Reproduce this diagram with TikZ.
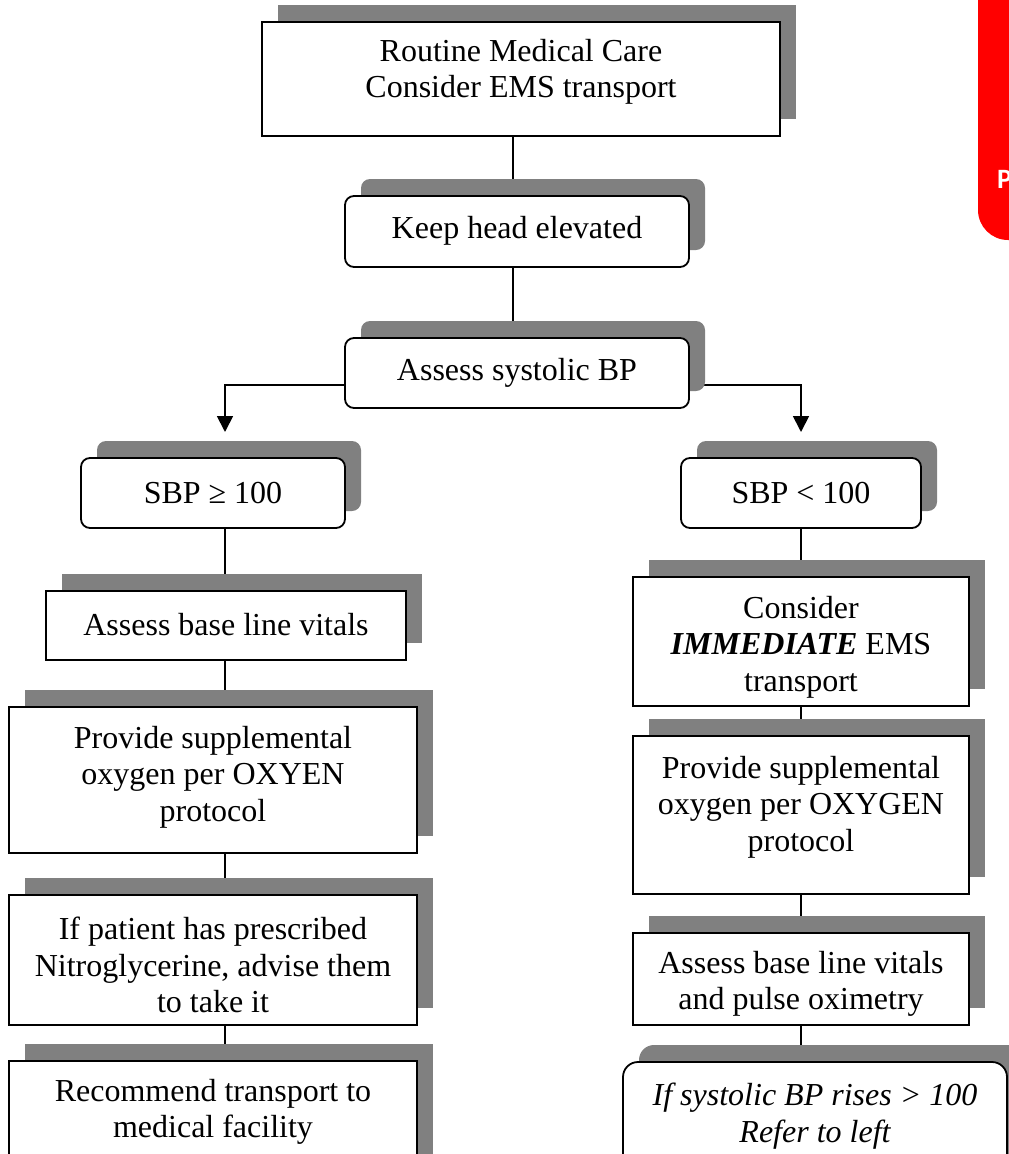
\documentclass[tikz,border=0pt]{standalone}
\usepackage{fontspec}
\setmainfont{Liberation Serif}
\newfontfamily\tabfont{Carlito}
\usetikzlibrary{arrows.meta,shadows,calc}
\pgfdeclarelayer{bg}
\pgfsetlayers{bg,main}
\tikzset{
  box/.style={draw=black, line width=1.8pt, fill=white, inner sep=0pt,
    drop shadow={shadow xshift=16pt, shadow yshift=17pt, opacity=1, fill=black!50}},
  rbox/.style={box, rounded corners=9pt},
  txt/.style={font=\fontsize{32}{36.5}\selectfont, align=center, inner sep=0pt},
  conn/.style={line width=1.8pt},
  arr/.style={conn, -{Triangle[width=16pt,length=16pt]}},
}
\begin{document}
\begin{tikzpicture}[x=1pt,y=-1pt]
\useasboundingbox (0,0) rectangle (1009,1154);
\clip (0,0) rectangle (1009,1154);
% red tab
\fill[red, rounded corners=30pt] (978,-60) -- (978,240) -- (1060,240) -- (1060,-60) -- cycle;
\node[anchor=base west, text=white, font=\tabfont\bfseries\fontsize{28}{30}\selectfont, inner sep=0pt] (tabP) at (997,188) {P};

% boxes
\node[box, minimum width=518pt, minimum height=114pt] (B1) at (521,79) {};
\node[rbox, minimum width=344pt, minimum height=71pt] (B2) at (517,231.5) {};
\node[rbox, minimum width=344pt, minimum height=70pt] (B3) at (517,373) {};
\node[rbox, minimum width=264pt, minimum height=70pt] (L0) at (213,493) {};
\node[rbox, minimum width=240pt, minimum height=70pt] (R0) at (801,493) {};
\node[box, minimum width=360pt, minimum height=69pt] (L1) at (226,625.5) {};
\node[box, minimum width=408pt, minimum height=146pt] (L2) at (213,780) {};
\node[box, minimum width=408pt, minimum height=130pt] (L3) at (213,960) {};
\node[box, minimum width=408pt, minimum height=114pt] (L4) at (213,1118) {};
\node[box, minimum width=336pt, minimum height=129pt] (R1) at (801,641.5) {};
\node[box, minimum width=336pt, minimum height=158pt] (R2) at (801,815) {};
\node[box, minimum width=336pt, minimum height=92pt] (R3) at (801,979) {};
\node[box, rounded corners=15pt, minimum width=384pt, minimum height=118pt] (R4) at (815,1121) {};

% texts
\node[txt] (T1) at (521,72) {Routine Medical Care\\Consider EMS transport};
\node[txt] (T2) at (517,231) {Keep head elevated};
\node[txt] (T3) at (517,373) {Assess systolic BP};
\node[txt] (TL0) at (213,493) {SBP ≥ 100};
\node[txt] (TR0) at (801,493) {SBP < 100};
\node[txt] (TL1) at (226,625) {Assess base line vitals};
\node[txt] (TL2) at (213,777) {Provide supplemental\\oxygen per OXYEN\\protocol};
\node[txt] (TL3) at (213,965) {If patient has prescribed\\Nitroglycerine, advise them\\to take it};
\node[txt] (TL4) at (213,1112) {Recommend transport to\\medical facility};
\node[txt] (TR1) at (801,647) {Consider\\\textbf{\textit{IMMEDIATE}} EMS\\transport};
\node[txt] (TR2) at (801,807) {Provide supplemental\\oxygen per OXYGEN\\protocol};
\node[txt] (TR3) at (801,984) {Assess base line vitals\\and pulse oximetry};
\node[txt, font=\fontsize{32}{36.5}\selectfont\itshape] (TR4) at (815,1116) {If systolic BP rises > 100\\Refer to left};

% connectors
\coordinate (xm) at (513,0);
\coordinate (xl) at (225,0);
\coordinate (xr) at (801,0);
\coordinate (ya) at (0,385);
\coordinate (aL) at (225,432);
\coordinate (aR) at (801,432);
\begin{pgfonlayer}{bg}
\draw[conn] (B1.south -| xm) -- (B2.north -| xm);
\draw[conn] (B2.south -| xm) -- (B3.north -| xm);
\draw[arr] (B3.west |- ya) -| (aL);
\draw[arr] (B3.east |- ya) -| (aR);
\draw[conn] (L0.south -| xl) -- (L1.north -| xl);
\draw[conn] (L1.south -| xl) -- (L2.north -| xl);
\draw[conn] (L2.south -| xl) -- (L3.north -| xl);
\draw[conn] (L3.south -| xl) -- (L4.north -| xl);
\draw[conn] (R0.south -| xr) -- (R1.north -| xr);
\draw[conn] (R1.south -| xr) -- (R2.north -| xr);
\draw[conn] (R2.south -| xr) -- (R3.north -| xr);
\draw[conn] (R3.south -| xr) -- (R4.north -| xr);
\end{pgfonlayer}
\end{tikzpicture}
\end{document}
